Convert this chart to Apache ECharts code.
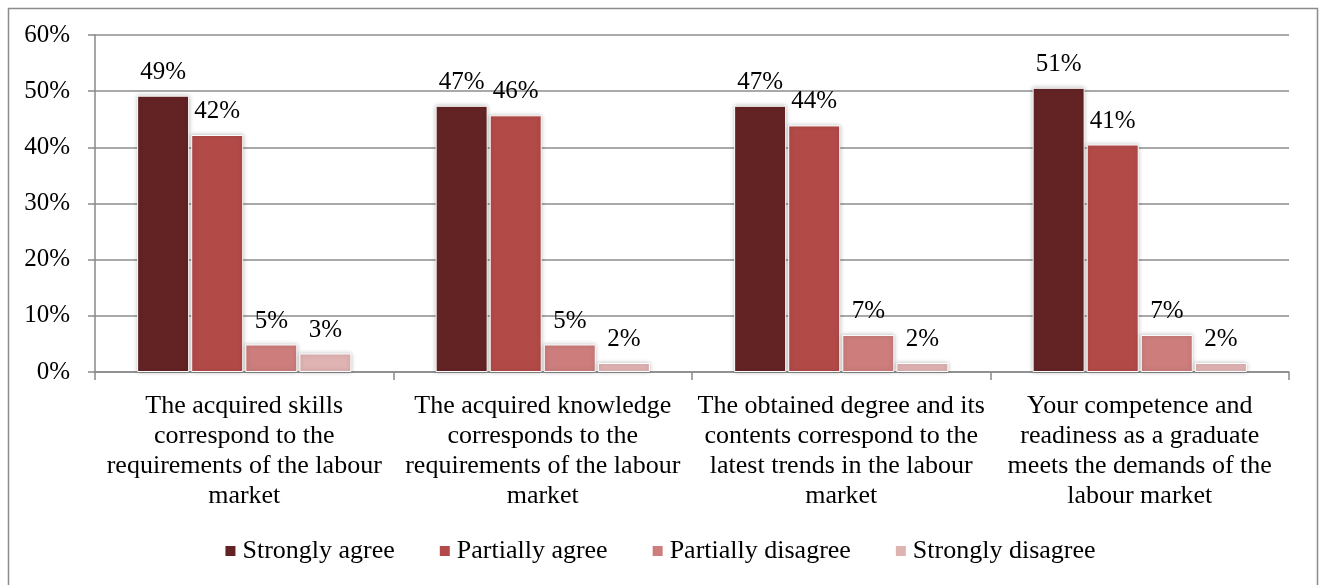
<!DOCTYPE html>
<html>
<head>
<meta charset="utf-8">
<script src="https://cdn.jsdelivr.net/npm/echarts@6/dist/echarts.min.js"></script>
<style>
html,body{margin:0;padding:0;background:#fff;}
#c{width:1319px;height:585px;}
</style>
</head>
<body>
<div id="c"></div>
<script>
const categories = [
  "The acquired skills\ncorrespond to the\nrequirements of the labour\nmarket",
  "The acquired knowledge\ncorresponds to the\nrequirements of the labour\nmarket",
  "The obtained degree and its\ncontents correspond to the\nlatest trends in the labour\nmarket",
  "Your competence and\nreadiness as a graduate\nmeets the demands of the\nlabour market"
];
const seriesNames = ["Strongly agree", "Partially agree", "Partially disagree", "Strongly disagree"];
const stronglyAgree = [0.492, 0.474, 0.474, 0.506];
const partiallyAgree = [0.422, 0.457, 0.439, 0.405];
const partiallyDisagree = [0.049, 0.049, 0.066, 0.066];
const stronglyDisagree = [0.033, 0.016, 0.016, 0.016];
const yTicks = [0, 0.1, 0.2, 0.3, 0.4, 0.5, 0.6];

const colors = ["#632324", "#B24A48", "#CC7D7C", "#E0B3B3"];
const values = [stronglyAgree, partiallyAgree, partiallyDisagree, stronglyDisagree];
const font = "'Liberation Serif', 'Times New Roman', serif";

const chart = echarts.init(document.getElementById('c'), null, {renderer: 'canvas'});
chart.setOption({
  animation: false,
  backgroundColor: '#fff',
  textStyle: {fontFamily: font, color: '#000'},
  graphic: [{
    type: 'rect', left: 6, top: 6, silent: true,
    shape: {width: 1309, height: 600},
    style: {fill: 'none', stroke: '#8c8c8c', lineWidth: 1.5}
  }],
  grid: {left: 95, right: 30, top: 35, bottom: 213, containLabel: false},
  legend: {
    bottom: 16, left: 'center',
    itemWidth: 12, itemHeight: 12, itemGap: 43,
    icon: 'rect',
    textStyle: {fontFamily: font, fontSize: 26, color: '#000', padding: [0, 0, 0, 1]},
    data: seriesNames
  },
  xAxis: {
    type: 'category',
    data: categories,
    axisLine: {lineStyle: {color: '#898989', width: 1.5}},
    axisTick: {show: true, length: 8, lineStyle: {color: '#898989', width: 1.5}},
    axisLabel: {fontFamily: font, fontSize: 26, color: '#000', lineHeight: 30, margin: 19, interval: 0, align: 'center'}
  },
  yAxis: {
    type: 'value', min: 0, max: 0.6, interval: 0.1,
    axisLine: {show: true, lineStyle: {color: '#898989', width: 1.5}},
    axisTick: {show: true, length: 7, lineStyle: {color: '#898989', width: 1.5}},
    splitLine: {lineStyle: {color: '#8c8c8c', width: 1.5}},
    axisLabel: {fontFamily: font, fontSize: 25, color: '#000', margin: 25,
      formatter: v => Math.round(v * 100) + '%'}
  },
  series: values.map((arr, i) => ({
    name: seriesNames[i],
    type: 'bar',
    data: arr,
    barWidth: 52,
    barGap: '4%',
    itemStyle: {color: colors[i], borderColor: '#fff', borderWidth: 1,
      shadowColor: 'rgba(0,0,0,0.25)', shadowBlur: 4, shadowOffsetX: 0, shadowOffsetY: 0},
    label: {show: true, position: 'top', distance: 11, fontFamily: font, fontSize: 25, color: '#000',
      formatter: p => Math.round(p.value * 100) + '%'}
  }))
});
</script>
</body>
</html>
